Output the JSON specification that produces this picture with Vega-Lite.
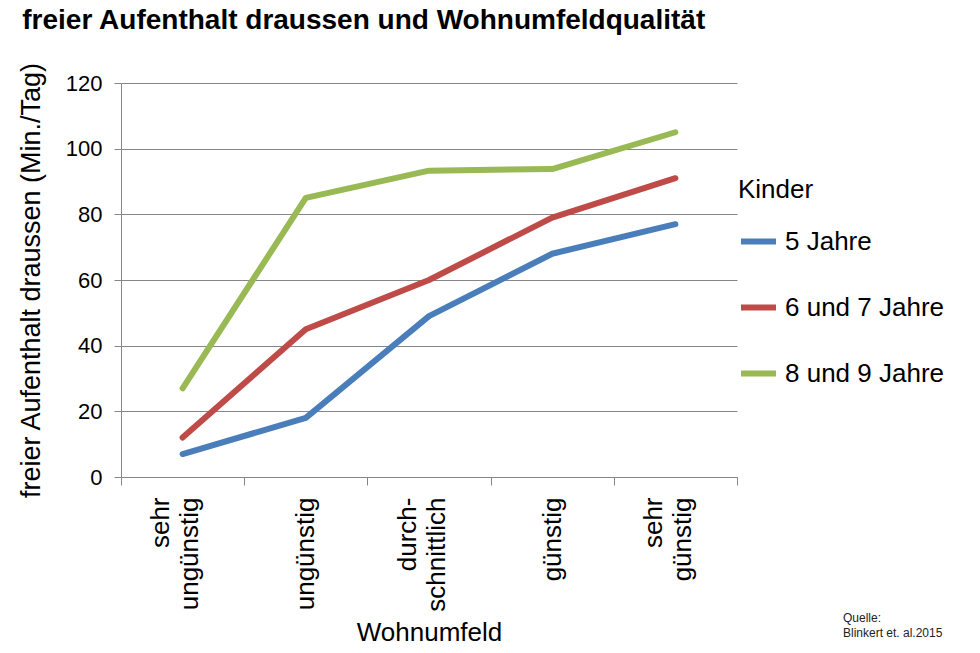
{
  "$schema": "https://vega.github.io/schema/vega-lite/v6.json",
  "width": 616,
  "height": 394,
  "padding": {"left": 17, "top": 6, "right": 5, "bottom": 5},
  "background": "white",
  "config": {
    "font": "Liberation Sans",
    "view": {"stroke": null}
  },
  "title": {
    "text": "freier Aufenthalt draussen und Wohnumfeldqualität",
    "anchor": "start",
    "frame": "bounds",
    "fontSize": 28,
    "font": "Liberation Sans",
    "fontWeight": "bold",
    "color": "black",
    "offset": 27,
    "dx": 5
  },
  "layer": [
    {
      "data": {
        "values": [
          {"Wohnumfeld": "sehr ungünstig", "Kinder": "5 Jahre", "Minuten": 7},
          {"Wohnumfeld": "ungünstig", "Kinder": "5 Jahre", "Minuten": 18},
          {"Wohnumfeld": "durchschnittlich", "Kinder": "5 Jahre", "Minuten": 49},
          {"Wohnumfeld": "günstig", "Kinder": "5 Jahre", "Minuten": 68},
          {"Wohnumfeld": "sehr günstig", "Kinder": "5 Jahre", "Minuten": 77},
          {"Wohnumfeld": "sehr ungünstig", "Kinder": "6 und 7 Jahre", "Minuten": 12},
          {"Wohnumfeld": "ungünstig", "Kinder": "6 und 7 Jahre", "Minuten": 45},
          {"Wohnumfeld": "durchschnittlich", "Kinder": "6 und 7 Jahre", "Minuten": 60},
          {"Wohnumfeld": "günstig", "Kinder": "6 und 7 Jahre", "Minuten": 79},
          {"Wohnumfeld": "sehr günstig", "Kinder": "6 und 7 Jahre", "Minuten": 91},
          {"Wohnumfeld": "sehr ungünstig", "Kinder": "8 und 9 Jahre", "Minuten": 27},
          {"Wohnumfeld": "ungünstig", "Kinder": "8 und 9 Jahre", "Minuten": 85},
          {"Wohnumfeld": "durchschnittlich", "Kinder": "8 und 9 Jahre", "Minuten": 93.3},
          {"Wohnumfeld": "günstig", "Kinder": "8 und 9 Jahre", "Minuten": 93.8},
          {"Wohnumfeld": "sehr günstig", "Kinder": "8 und 9 Jahre", "Minuten": 105}
        ]
      },
      "mark": {"type": "line", "strokeWidth": 6, "strokeCap": "round", "strokeJoin": "round"},
      "encoding": {
        "x": {
          "field": "Wohnumfeld",
          "type": "nominal",
          "sort": ["sehr ungünstig", "ungünstig", "durchschnittlich", "günstig", "sehr günstig"],
          "scale": {"type": "band", "paddingInner": 0, "paddingOuter": 0},
          "axis": {
            "title": "Wohnumfeld",
            "titleFontSize": 26,
            "titleFontWeight": "normal",
            "titleColor": "black",
            "titlePadding": 8,
            "labelAngle": 270,
            "labelAlign": "right",
            "labelBaseline": "middle",
            "labelFontSize": 26,
            "labelColor": "black",
            "labelLineHeight": 29,
            "labelPadding": 12,
            "labelOffset": {"condition": {"test": "isValid(datum.value) && (datum.value == 'durchschnittlich' || indexof(datum.value, ' ') >= 0)", "value": -22}, "value": 0},
            "labelExpr": "!isValid(datum.value) ? '' : datum.value == 'durchschnittlich' ? ['durch-', 'schnittlich'] : split(datum.value, ' ')",
            "tickBand": "extent",
            "tickSize": 8,
            "tickColor": "#868686",
            "domainColor": "#868686",
            "grid": false
          }
        },
        "y": {
          "field": "Minuten",
          "type": "quantitative",
          "scale": {"domain": [0, 120], "nice": false},
          "axis": {
            "title": "freier Aufenthalt draussen (Min./Tag)",
            "titleFontSize": 27,
            "titleFontWeight": "normal",
            "titleColor": "black",
            "titlePadding": 20,
            "values": [0, 20, 40, 60, 80, 100, 120],
            "labelFontSize": 22,
            "labelColor": "black",
            "labelPadding": 12,
            "tickSize": 7,
            "tickColor": "#868686",
            "domainColor": "#868686",
            "grid": true,
            "gridColor": "#868686"
          }
        },
        "color": {
          "field": "Kinder",
          "type": "nominal",
          "scale": {
            "domain": ["5 Jahre", "6 und 7 Jahre", "8 und 9 Jahre"],
            "range": ["#4a7ebb", "#be4b48", "#98b954"]
          },
          "legend": {
            "orient": "none",
            "legendX": 617,
            "legendY": 94,
            "title": "Kinder",
            "titleFontSize": 26,
            "titleFontWeight": "normal",
            "titleColor": "black",
            "titlePadding": 18,
            "labelFontSize": 26,
            "labelColor": "black",
            "labelOffset": 6,
            "symbolType": "stroke",
            "symbolStrokeWidth": 6,
            "symbolSize": 1225,
            "rowPadding": 32
          }
        }
      }
    },
    {
      "data": {"values": [{"quelle": "Quelle:\nBlinkert et. al.2015"}]},
      "mark": {"type": "text", "align": "left", "baseline": "top", "fontSize": 12, "lineBreak": "\n", "color": "#222222", "lineHeight": 15},
      "encoding": {
        "text": {"field": "quelle"},
        "x": {"value": 722},
        "y": {"value": 530}
      }
    }
  ]
}
